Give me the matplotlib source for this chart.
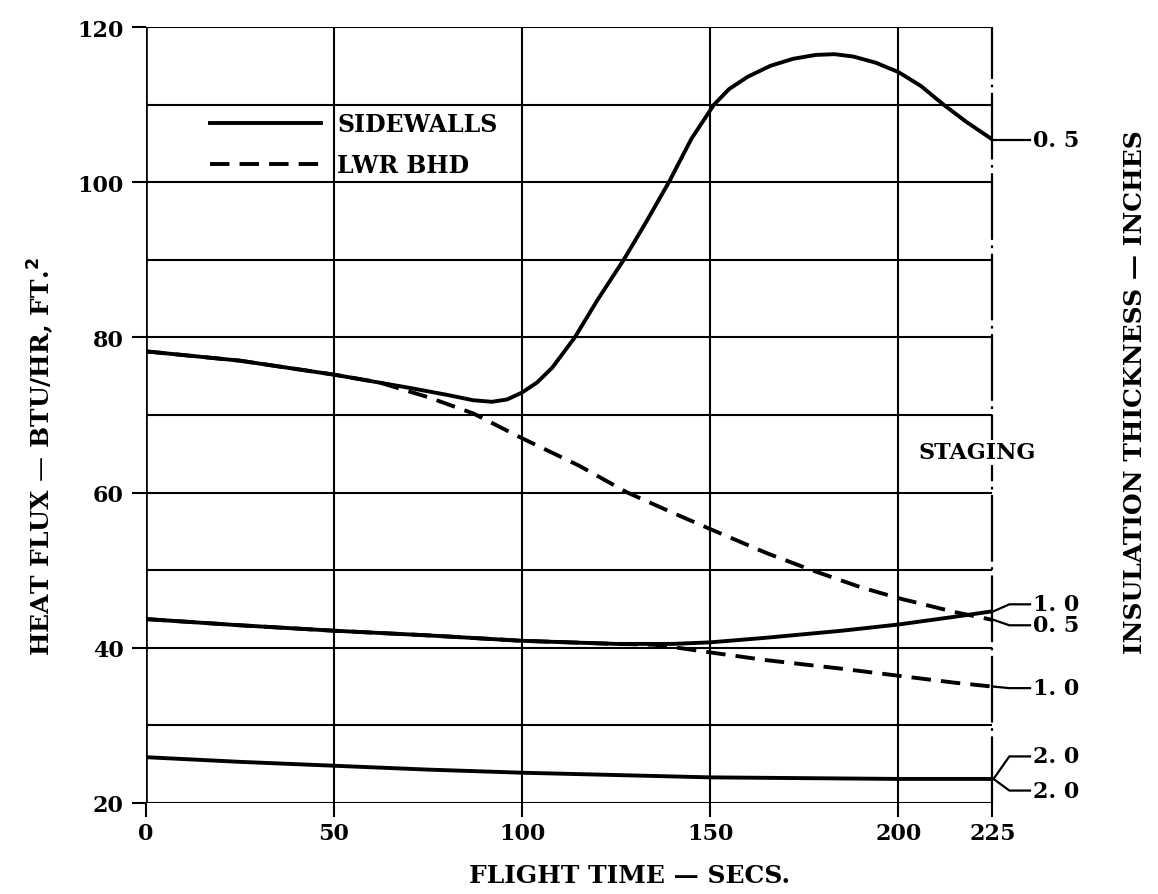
import matplotlib
matplotlib.use("Agg")
import matplotlib.pyplot as plt

plt.rcParams['font.family'] = ['DejaVu Serif']
plt.rcParams['font.weight'] = 'bold'

# sidewalls, 0.5 in insulation
sw05_t = [0, 25, 50, 70, 80, 87, 92, 96, 100, 104, 108, 114, 120, 127, 133, 139, 145, 151,
          155, 160, 166, 172, 178, 183, 188, 194, 200, 206, 212, 218, 225]
sw05_q = [78.2, 77.0, 75.2, 73.5, 72.6, 71.9, 71.7, 72.0, 72.9, 74.2, 76.1, 80.0, 84.8, 90.0,
          94.9, 100.0, 105.6, 110.0, 112.0, 113.6, 115.0, 115.9, 116.4, 116.5, 116.2, 115.4,
          114.2, 112.4, 110.0, 107.8, 105.5]

# lower bulkhead, 0.5 in
lb05_t = [0, 25, 50, 62, 75, 87, 100, 115, 128, 140, 150, 165, 177, 190, 200, 215, 225]
lb05_q = [78.2, 77.0, 75.2, 74.2, 72.3, 70.2, 67.0, 63.5, 60.0, 57.4, 55.3, 52.2, 50.0, 47.8, 46.4, 44.6, 43.6]

# sidewalls, 1.0 in
sw10_t = [0, 25, 50, 75, 100, 125, 140, 150, 165, 185, 200, 215, 225]
sw10_q = [43.7, 42.9, 42.2, 41.6, 40.9, 40.5, 40.5, 40.7, 41.3, 42.2, 43.0, 44.0, 44.7]

# lower bulkhead, 1.0 in
lb10_t = [0, 25, 50, 75, 100, 125, 135, 140, 150, 165, 185, 200, 215, 225]
lb10_q = [43.7, 42.9, 42.2, 41.6, 40.9, 40.5, 40.4, 40.1, 39.4, 38.4, 37.3, 36.4, 35.5, 35.0]

# 2.0 in (sidewalls and bulkhead coincide)
t20 = [0, 25, 50, 75, 100, 125, 150, 175, 200, 225]
q20 = [25.9, 25.3, 24.8, 24.3, 23.9, 23.6, 23.3, 23.2, 23.1, 23.1]

x_ticks = [0, 50, 100, 150, 200, 225]
y_ticks = [20, 40, 60, 80, 100, 120]

# thickness labels at staging, with the curve end they point to
thk_text = ["0.5", "1.0", "0.5", "1.0", "2.0", "2.0"]
thk_y = [105.5, 45.6, 42.9, 34.8, 26.0, 21.6]
thk_end = [sw05_q[-1], sw10_q[-1], lb05_q[-1], lb10_q[-1], q20[-1], q20[-1]]

fig = plt.figure(figsize=(11.58, 8.95), dpi=100)
ax = fig.add_axes([0.126, 0.1017, 0.731, 0.867])
ax.set_xlim(0, 225)
ax.set_ylim(20, 120)

# grid
for y in range(20, 121, 10):
    ax.plot([0, 225], [y, y], color='black', lw=1.5, zorder=1)
for x in x_ticks[:-1]:
    ax.axvline(x, color='black', lw=1.5, zorder=1)
ax.axvline(0, color='black', lw=2.6, zorder=1)
ax.plot([225, 225], [20, 120], color='black', lw=1.6, clip_on=False,
        linestyle=(0, (30, 2.5, 1.2, 2.5)), zorder=1)

for s in ax.spines.values():
    s.set_visible(False)

ax.plot(sw05_t, sw05_q, color='black', lw=2.8, solid_joinstyle='round', label='SIDEWALLS', zorder=3)
ax.plot(lb05_t, lb05_q, color='black', lw=2.8, dashes=(5, 2.6), label='LWR BHD', zorder=3)
ax.plot(sw10_t, sw10_q, color='black', lw=2.8, zorder=3)
ax.plot(lb10_t, lb10_q, color='black', lw=2.8, dashes=(5, 2.6), zorder=3)
ax.plot(t20, q20, color='black', lw=2.8, zorder=3)

ax.set_xticks(x_ticks)
ax.set_yticks(y_ticks)
ax.tick_params(axis='both', direction='out', length=10, width=1.5, labelsize=16, pad=4)
ax.tick_params(axis='y', pad=6)

leg = ax.legend(loc='upper left', bbox_to_anchor=(0.0757, 0.89), frameon=False,
                handlelength=4.7, fontsize=17, borderaxespad=0, borderpad=0,
                labelspacing=0.7, handletextpad=0.7)

ax.text(221, 65.2, 'STAGING', ha='center', va='center', fontsize=16,
        bbox=dict(facecolor='white', edgecolor='none', pad=1), zorder=4)

for txt, yl, ye in zip(thk_text, thk_y, thk_end):
    ax.plot([225.3, 229.5, 235], [ye, yl, yl], color='black', lw=1.6, clip_on=False)
    ax.text(235.8, yl, txt.replace('.', '. '), ha='left', va='center', fontsize=16)

fig.text(0.544, 0.021, 'FLIGHT TIME \u2014 SECS.', ha='center', va='center', fontsize=18)
fig.text(0.035, 0.49, 'HEAT FLUX \u2014 BTU/HR, FT.$^{\\mathbf{2}}$', rotation=90,
         ha='center', va='center', fontsize=18)
fig.text(0.98, 0.562, 'INSULATION THICKNESS \u2014 INCHES', rotation=90,
         ha='center', va='center', fontsize=18)

fig.savefig('out.png', dpi=100)
